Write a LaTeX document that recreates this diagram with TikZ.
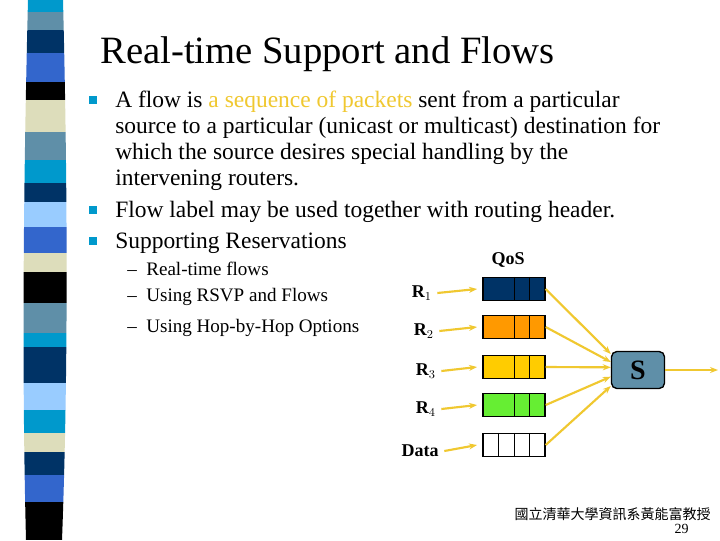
\documentclass[tikz,border=0pt]{standalone}
\usepackage{fontspec}
\setmainfont{Liberation Serif}
\newfontfamily\cjk{Noto Sans CJK TC}
\usetikzlibrary{arrows.meta,calc}
\definecolor{cy}{HTML}{0099CC}\definecolor{st}{HTML}{5F8FA8}\definecolor{nv}{HTML}{003366}
\definecolor{rb}{HTML}{3366CC}\definecolor{bg}{HTML}{DDDDBB}\definecolor{lb}{HTML}{99CCFF}
\definecolor{yl}{HTML}{F0C830}\definecolor{qo}{HTML}{FF9900}\definecolor{qy}{HTML}{FFCC00}\definecolor{qg}{HTML}{66EE33}
\begin{document}
\begin{tikzpicture}[x=0.75pt,y=-0.75pt,
 txt/.style={anchor=base west,inner sep=0,font=\fontsize{17.6}{20}\selectfont},
 sub/.style={anchor=base west,inner sep=0,font=\fontsize{14.3}{17}\selectfont},
 lab/.style={inner sep=0,font=\bfseries\fontsize{13.5}{16}\selectfont},
 bul/.style={fill=cy,minimum size=6.5pt,inner sep=0},
 q/.style={draw=black,line width=1pt,minimum width=62*0.75pt,minimum height=23*0.75pt,inner sep=0},
 ya/.style={draw=yl,line width=1.6pt,-{Stealth[length=6pt]}}]
\useasboundingbox (0,0) rectangle (720,540);
\fill[white] (0,0) rectangle (720,540);
\begin{scope}
\clip (28,0) .. controls (23,200) and (22,380) .. (26,540) -- (62,540) .. controls (68,380) and (68,200) .. (63,0) -- cycle;
\foreach \a/\b/\c in {0/12/cy,12/30/st,30/53/nv,53/82/rb,82/100/black,100/132/bg,132/160/st,160/183/cy,183/202/nv,202/227/lb,227/253/rb,253/272/bg,272/303/black,303/333/st,333/347/cy,347/383/nv,383/410/lb,410/433/cy,433/452/bg,452/475/nv,475/502/rb,502/540/black}
 \fill[\c] (0,\a) rectangle (80,\b);
\end{scope}
\node[anchor=base west,inner sep=0,font=\fontsize{29}{33}\selectfont] (title) at (100,63) {Real-time Support and Flows};
\node[bul] (b1) at (93,100) {};\node[bul] (b2) at (93,210) {};\node[bul] (b3) at (93,241) {};
\node[txt] (t1) at (115,107) {A flow is \textcolor{yl}{a sequence of packets} sent from a particular};
\node[txt] (t2) at (115,133) {source to a particular (unicast or multicast) destination for};
\node[txt] (t3) at (115,159) {which the source desires special handling by the};
\node[txt] (t4) at (115,185) {intervening routers.};
\node[txt] (t5) at (115,217) {Flow label may be used together with routing header.};
\node[txt] (t6) at (115,248) {Supporting Reservations};
\node[sub] (s1) at (127,275) {–\ \ Real-time flows};
\node[sub] (s2) at (127,301) {–\ \ Using RSVP and Flows};
\node[sub] (s3) at (127,332) {–\ \ Using Hop-by-Hop Options};
\node[lab] (qos) at (508,260) {QoS};
\foreach \n/\y/\c in {r1/289/nv,r2/327/qo,r3/367/qy,r4/405/qg,d/445/white}{
 \node[q,fill=\c] (\n) at (514,\y) {};
 \draw[line width=1pt] ($(\n.north west)+(32,0)$) -- ($(\n.south west)+(32,0)$);
 \draw[line width=1pt] ($(\n.north west)+(47,0)$) -- ($(\n.south west)+(47,0)$);
}
\draw[line width=1pt] ($(d.north west)+(16,0)$) -- ($(d.south west)+(16,0)$);
\node[lab,anchor=east] (l1) at (432,293) {R$_1$};
\node[lab,anchor=east] (l2) at (434,331) {R$_2$};
\node[lab,anchor=east] (l3) at (436,371) {R$_3$};
\node[lab,anchor=east] (l4) at (436,409) {R$_4$};
\node[lab,anchor=east] (l5) at (439,451) {Data};
\foreach \a/\b in {l1/r1,l2/r2,l3/r3,l4/r4,l5/d} \draw[ya] ([xshift=4pt]\a.east) -- ([xshift=-4pt]\b.west);
\node[draw=black,line width=1pt,fill=st,rounded corners=4pt,minimum width=53*0.75pt,minimum height=37*0.75pt,font=\bfseries\fontsize{21}{24}\selectfont] (S) at (638,370) {S};
\coordinate (out) at (718,370);
\draw[ya] (r1.east) -- ([yshift=12pt]S.west);
\draw[ya] (r2.east) -- ([yshift=6pt]S.west);
\draw[ya] (r3.east) -- ([yshift=2pt]S.west);
\draw[ya] (r4.east) -- ([yshift=-5pt]S.west);
\draw[ya] (d.east) -- ([yshift=-12pt]S.west);
\draw[ya] (S.east) -- (out);
\node[anchor=base east,inner sep=0,font=\cjk\fontsize{10.5}{12}\selectfont] (f1) at (711,519) {國立清華大學資訊系黃能富教授};
\node[anchor=base east,inner sep=0,font=\fontsize{10.5}{12}\selectfont] (f2) at (689,533) {29};
\end{tikzpicture}
\end{document}
